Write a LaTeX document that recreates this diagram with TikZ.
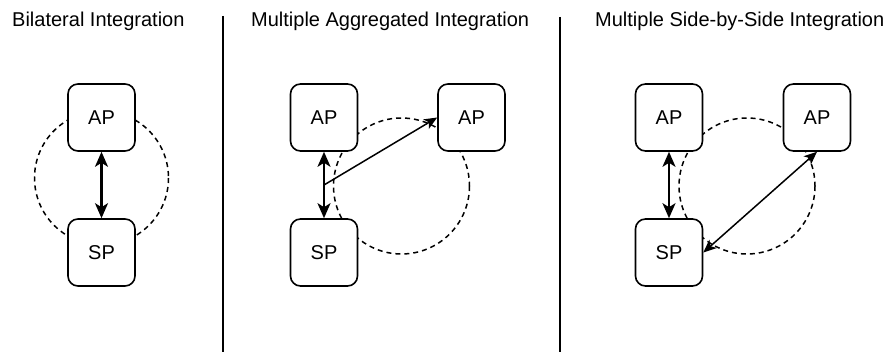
\documentclass[tikz,border=0pt]{standalone}
\usepackage{fontspec}
\setmainfont{Liberation Sans}
\usepackage{tikz}
\usetikzlibrary{arrows.meta,calc}

\begin{document}
\begin{tikzpicture}[
        x=1pt, y=-1pt,
        font=\fontsize{20}{24}\selectfont,
        party/.style={draw=black, fill=white, rounded corners=10pt, line width=1.6pt,
                      minimum width=67pt, minimum height=67pt, inner sep=0pt},
        title/.style={anchor=base west, inner sep=0pt},
        ring/.style={draw=black, line width=1.5pt, dash pattern=on 5pt off 4pt},
        sep/.style={draw=black, line width=1.6pt},
        thickarr/.style={{Stealth[length=15pt,width=13pt,inset=4pt]}-{Stealth[length=15pt,width=13pt,inset=4pt]}, line width=2.2pt},
        thinarr/.style={-{Stealth[length=13pt,width=11pt,inset=3.5pt]}, line width=1.5pt},
        dthinarr/.style={{Stealth[length=13pt,width=11pt,inset=3.5pt]}-{Stealth[length=13pt,width=11pt,inset=3.5pt]}, line width=1.5pt}
    ]
        \useasboundingbox (0,0) rectangle (889,352);

        % titles and separators
        \node[title] (tbil) at (12, 27) {Bilateral Integration};
        \node[title] (tagg) at (251, 27) {Multiple Aggregated Integration};
        \node[title] (tsbs) at (595, 27) {Multiple Side-by-Side Integration};
        \coordinate (s1top) at (223, 16);
        \coordinate (s1bot) at (223, 352);
        \coordinate (s2top) at (560, 17);
        \coordinate (s2bot) at (560, 352);
        \draw[sep] (s1top) -- (s1bot);
        \draw[sep] (s2top) -- (s2bot);

        % bilateral
        \draw[ring] (101.5, 178) circle (67);
        \node[party] (apa) at (101.5, 117.5) {AP};
        \node[party] (spa) at (101.5, 252.5) {SP};
        \draw[thickarr] (apa) -- (spa);

        % aggregated
        \draw[ring] (401.5, 186) circle (68);
        \node[party] (apb) at (324, 117.5) {AP};
        \node[party] (apbb) at (471.5, 117.5) {AP};
        \node[party] (spb) at (324, 252.5) {SP};
        \draw[thickarr] (apb) -- (spb);
        \coordinate (midb) at ($(apb.south)!0.5!(spb.north)$);
        \draw[thinarr] (midb) -- (apbb.west);

        % side-by-side
        \draw[ring] (747, 186) circle (68);
        \node[party] (apc) at (669, 117.5) {AP};
        \node[party] (apcc) at (817, 117.5) {AP};
        \node[party] (spc) at (669, 252.5) {SP};
        \draw[thickarr] (apc) -- (spc);
        \draw[dthinarr] (spc.east) -- (apcc.south);
    \end{tikzpicture}
\end{document}
